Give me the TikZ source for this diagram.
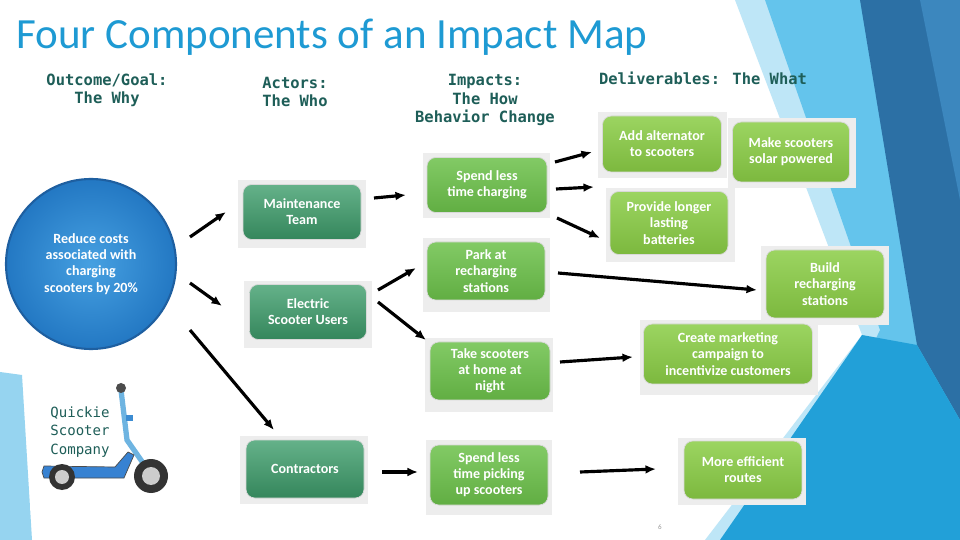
\documentclass[tikz,border=0pt]{standalone}
\usepackage{fontspec}
\setmainfont{Carlito}
\newfontfamily\monof{DejaVu Sans Mono}
\usetikzlibrary{arrows.meta}
\definecolor{ttl}{HTML}{1E9AD3}
\definecolor{teal}{HTML}{1E5E58}
\definecolor{actg}{HTML}{3E9E6C}
\definecolor{impg}{HTML}{6CC14A}
\definecolor{delg}{HTML}{8ACD45}
\definecolor{frm}{HTML}{EDEDED}
\definecolor{bgA}{RGB}{190,230,247}
\definecolor{bgB}{RGB}{100,196,236}
\definecolor{bgC}{RGB}{44,112,165}
\definecolor{bgD}{RGB}{60,135,190}
\definecolor{bgE}{RGB}{34,160,216}
\definecolor{bgF}{RGB}{150,212,240}
\definecolor{cedge}{RGB}{30,95,160}
\definecolor{cin}{RGB}{70,160,225}
\definecolor{cout}{RGB}{35,120,195}
\definecolor{stem}{RGB}{110,180,225}
\definecolor{stemb}{RGB}{60,140,210}
\definecolor{deck}{RGB}{55,130,210}
\tikzset{
 gbox/.style={rounded corners=5pt,draw=black!15,line width=0.4pt,text=white,font=\bfseries\fontsize{8}{9.2}\selectfont,align=center},
 act/.style={gbox,top color=actg!80!white,bottom color=actg!85!black},
 imp/.style={gbox,top color=impg!85!white,bottom color=impg!90!black},
 del/.style={gbox,top color=delg!85!white,bottom color=delg!90!black},
 hdr/.style={text=teal,font=\monof\bfseries\fontsize{8.8}{10.5}\selectfont,align=center},
 arr/.style={-{Latex[length=6pt,width=5pt]},line width=1.8pt,black}
}
\begin{document}
\begin{tikzpicture}[x=0.02cm,y=-0.02cm]
\useasboundingbox (0,0) rectangle (960,540);
\fill[white] (0,0) rectangle (960,540);
% background decoration
\fill[bgA] (735,0) -- (960,0) -- (960,540) -- (705,540) -- (862,335) -- cycle;
\fill[bgB] (765,0) -- (960,0) -- (960,540) -- (780,540) -- (880,330) -- cycle;
\fill[bgC] (860,0) -- (960,0) -- (960,420) -- (917,345) -- cycle;
\fill[bgD] (920,0) -- (960,0) -- (960,200) -- cycle;
\fill[bgE] (862,335) -- (917,345) -- (960,420) -- (960,540) -- (720,540) -- cycle;
\fill[bgF] (0,372) -- (22,375) -- (32,540) -- (0,540) -- cycle;
% title
\node[anchor=west,text=ttl,font=\fontsize{24.5}{28}\selectfont] (title) at (10,37) {Four Components of an Impact Map};
% headers
\node[hdr] (h1) at (107,90) {Outcome/Goal:\\The Why};
\node[hdr] (h2) at (295,92) {Actors:\\The Who};
\node[hdr] (h3) at (485,100) {Impacts:\\The How\\Behavior Change};
\node[hdr] (h4) at (703,78) {Deliverables: The What};
% goal circle
\node[circle,minimum size=170*0.02cm,draw=cedge,line width=1.2pt,inner color=cin,outer color=cout,text=white,font=\bfseries\fontsize{8}{9.2}\selectfont,align=center] (goal) at (91,264) {Reduce costs\\associated with\\charging\\scooters by 20\%};
% actor boxes
\fill[frm] (238,180) rectangle (366,248);
\node[act,minimum width=118*0.02cm,minimum height=55*0.02cm] (a1) at (302,212) {Maintenance\\Team};
\fill[frm] (244,281) rectangle (372,348);
\node[act,minimum width=117*0.02cm,minimum height=55*0.02cm] (a2) at (308,312) {Electric\\Scooter Users};
\fill[frm] (240,436) rectangle (368,504);
\node[act,minimum width=118*0.02cm,minimum height=58*0.02cm] (a3) at (305,469) {Contractors};
% impacts
\fill[frm] (423,153) rectangle (550,218);
\node[imp,minimum width=120*0.02cm,minimum height=55*0.02cm] (i1) at (487,185) {Spend less\\time charging};
\fill[frm] (423,238) rectangle (550,312);
\node[imp,minimum width=118*0.02cm,minimum height=58*0.02cm] (i2) at (486,271) {Park at\\recharging\\stations};
\fill[frm] (425,338) rectangle (553,412);
\node[imp,minimum width=120*0.02cm,minimum height=58*0.02cm] (i3) at (490,371) {Take scooters\\at home at\\night};
\fill[frm] (426,440) rectangle (552,515);
\node[imp,minimum width=118*0.02cm,minimum height=60*0.02cm] (i4) at (489,475) {Spend less\\time picking\\up scooters};
% deliverables
\fill[frm] (598,112) rectangle (727,178);
\node[del,minimum width=119*0.02cm,minimum height=56*0.02cm] (d1) at (662,144) {Add alternator\\to scooters};
\fill[frm] (728,118) rectangle (856,188);
\node[del,minimum width=117*0.02cm,minimum height=60*0.02cm] (d2) at (791,152) {Make scooters\\solar powered};
\fill[frm] (606,188) rectangle (735,262);
\node[del,minimum width=118*0.02cm,minimum height=63*0.02cm] (d3) at (669,223) {Provide longer\\lasting\\batteries};
\fill[frm] (761,246) rectangle (889,325);
\node[del,minimum width=118*0.02cm,minimum height=68*0.02cm] (d4) at (825,284) {Build\\recharging\\stations};
\fill[frm] (640,320) rectangle (818,395);
\node[del,minimum width=169*0.02cm,minimum height=60*0.02cm] (d5) at (728,354) {Create marketing\\campaign to\\incentivize customers};
\fill[frm] (678,438) rectangle (806,505);
\node[del,minimum width=118*0.02cm,minimum height=58*0.02cm] (d6) at (743,470) {More efficient\\routes};
% arrows
\coordinate (s1) at (190,237); \coordinate (e1) at (226,212);
\coordinate (s2) at (190,283); \coordinate (e2) at (222,306);
\coordinate (s3) at (190,330); \coordinate (e3) at (274,430);
\draw[arr] (s1) -- (e1);
\draw[arr] (s2) -- (e2);
\draw[arr] (s3) -- (e3);
\coordinate (s4) at (374,198); \coordinate (e4) at (406,195);
\coordinate (s5) at (378,290); \coordinate (e5) at (416,268);
\coordinate (s6) at (378,302); \coordinate (e6) at (426,340);
\coordinate (s7) at (382,472); \coordinate (e7) at (418,472);
\draw[arr] (s4) -- (e4);
\draw[arr] (s5) -- (e5);
\draw[arr] (s6) -- (e6);
\draw[arr] (s7) -- (e7);
\coordinate (s8) at (555,162); \coordinate (e8) at (592,152);
\coordinate (s9) at (556,189); \coordinate (e9) at (594,187);
\coordinate (s10) at (557,218); \coordinate (e10) at (600,238);
\coordinate (s11) at (558,273); \coordinate (e11) at (757,290);
\coordinate (s12) at (560,362); \coordinate (e12) at (633,357);
\coordinate (s13) at (580,472); \coordinate (e13) at (656,469);
\draw[arr] (s8) -- (e8);
\draw[arr] (s9) -- (e9);
\draw[arr] (s10) -- (e10);
\draw[arr] (s11) -- (e11);
\draw[arr] (s12) -- (e12);
\draw[arr] (s13) -- (e13);
% scooter
\fill[white] (30,375) rectangle (175,510);
\draw[line width=3pt,stem,line cap=round] (121,390) -- (127,440) -- (150,473);
\draw[line width=3.5pt,stemb] (126,418) -- (133,418);
\fill[deck,draw=black!70,line width=0.4pt] (42,472) -- (44,466) -- (115,467) -- (128,452) -- (134,455) -- (124,478) -- (44,478) -- cycle;
\fill[black!70] (121,388) circle (5);
\fill[black!80] (62,477) circle (13); \fill[black!20] (62,477) circle (7);
\fill[black!80] (151,476) circle (17); \fill[black!20] (151,476) circle (9);
\node[hdr,font=\monof\fontsize{8}{10.5}\selectfont] (comp) at (80,432) {Quickie\\Scooter\\Company};
\node[text=black!40,font=\fontsize{4}{5}\selectfont] (pg) at (660,527) {6};
\end{tikzpicture}
\end{document}
